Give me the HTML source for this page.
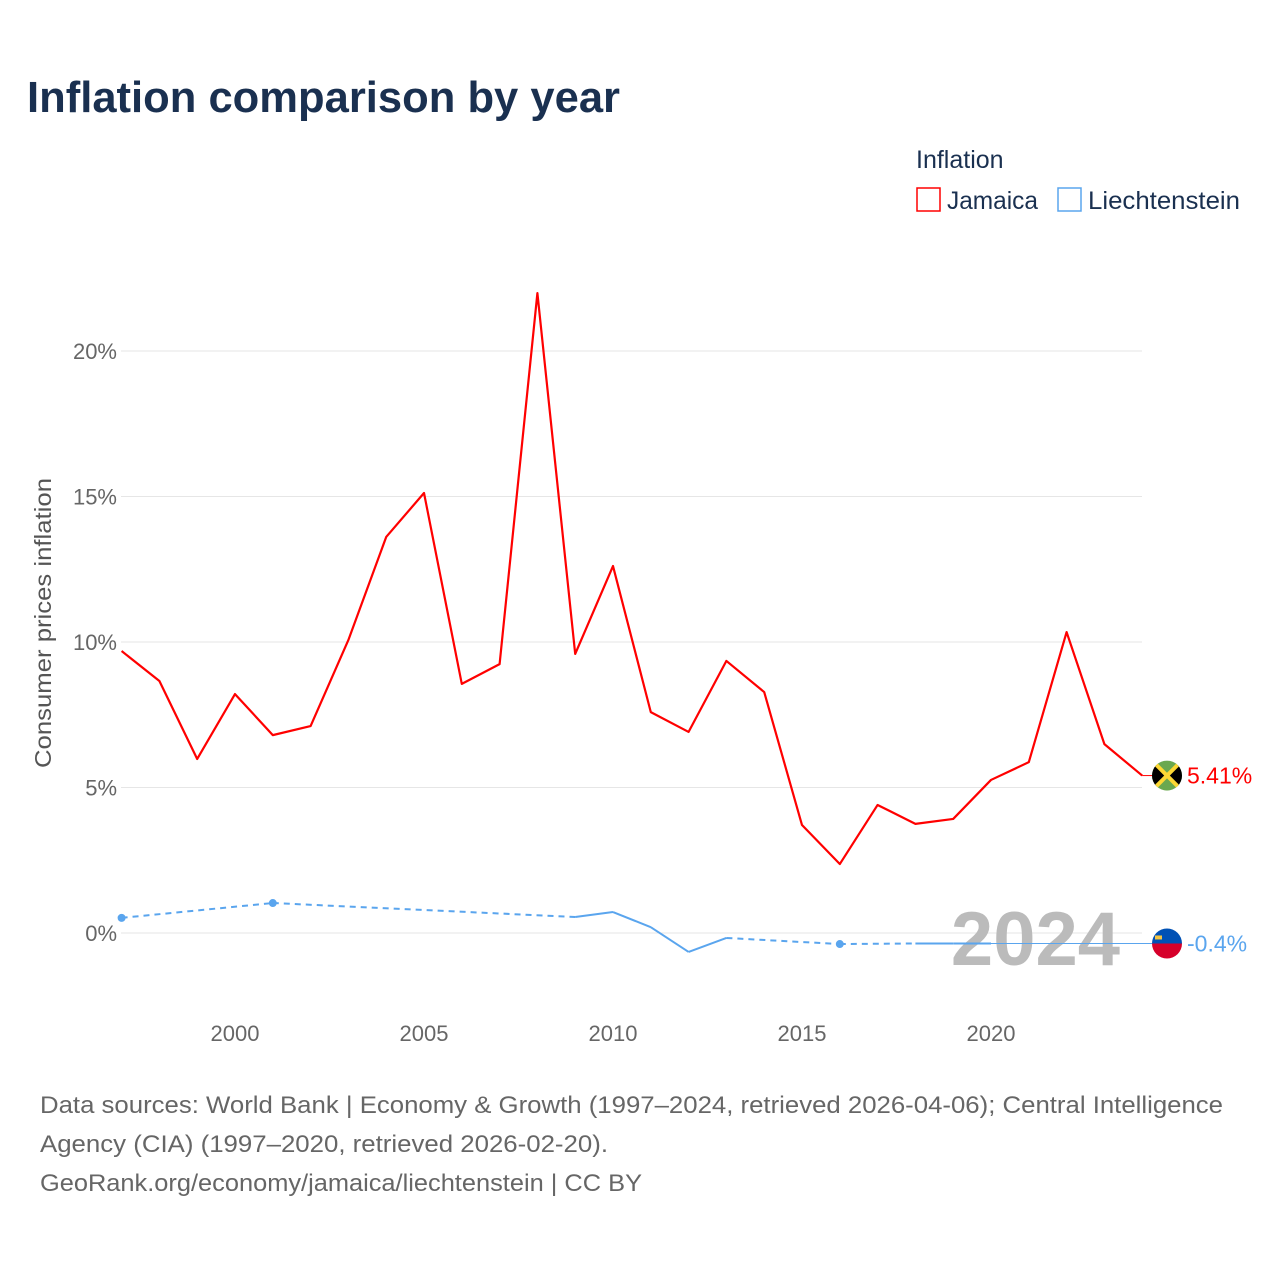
<!DOCTYPE html>
<html><head><meta charset="utf-8"><style>
body{margin:0;background:#fff;font-family:"Liberation Sans",sans-serif}
svg text{font-family:"Liberation Sans",sans-serif}
</style></head><body>
<svg id="c" width="1280" height="1280" viewBox="0 0 1280 1280" xmlns="http://www.w3.org/2000/svg">
<rect width="1280" height="1280" fill="#fff"/>
<text x="27" y="112" font-size="44" font-weight="bold" fill="#1a3050" textLength="593" lengthAdjust="spacingAndGlyphs">Inflation comparison by year</text>
<text x="916" y="168" font-size="25" fill="#1a3050">Inflation</text>
<g><rect x="917" y="188" width="23" height="23" fill="none" stroke="#f00" stroke-width="1.5"/><text x="947" y="209" font-size="25" fill="#1a3050" textLength="91" lengthAdjust="spacingAndGlyphs">Jamaica</text></g>
<g><rect x="1058" y="188" width="23" height="23" fill="none" stroke="#5aa5ee" stroke-width="1.5"/><text x="1088" y="209" font-size="25" fill="#1a3050" textLength="152" lengthAdjust="spacingAndGlyphs">Liechtenstein</text></g>
<text transform="translate(51,623) rotate(-90)" text-anchor="middle" font-size="23" fill="#555" textLength="290" lengthAdjust="spacingAndGlyphs">Consumer prices inflation</text>
<g id="grid"></g><g id="marks"></g>
<text x="40" y="1113" font-size="24" fill="#666" textLength="1183" lengthAdjust="spacingAndGlyphs">Data sources: World Bank | Economy &amp; Growth (1997–2024, retrieved 2026-04-06); Central Intelligence</text>
<text x="40" y="1152" font-size="24" fill="#666" textLength="568" lengthAdjust="spacingAndGlyphs">Agency (CIA) (1997–2020, retrieved 2026-02-20).</text>
<text x="40" y="1191" font-size="24" fill="#666" textLength="602" lengthAdjust="spacingAndGlyphs">GeoRank.org/economy/jamaica/liechtenstein | CC BY</text>
</svg>
<script>
const years=[1997,1998,1999,2000,2001,2002,2003,2004,2005,2006,2007,2008,2009,2010,2011,2012,2013,2014,2015,2016,2017,2018,2019,2020,2021,2022,2023,2024];
const jamaica=[9.69,8.66,5.98,8.21,6.80,7.11,10.07,13.61,15.12,8.56,9.24,21.99,9.59,12.61,7.59,6.91,9.35,8.28,3.71,2.37,4.40,3.75,3.92,5.26,5.87,10.34,6.49,5.41];
const liechtenstein=[0.52,null,null,null,1.03,null,null,null,null,null,null,null,0.55,0.72,0.20,-0.65,-0.17,null,null,-0.38,null,-0.36,-0.36,-0.36,null,null,null,null];
const yTicks=[0,5,10,15,20];
const xTicks=[2000,2005,2010,2015,2020];
const NS="http://www.w3.org/2000/svg";
const X=y=>121.6+(y-1997)*37.8;
const Y=v=>933-v*29.1;
function mk(t,a,p){const e=document.createElementNS(NS,t);for(const k in a)e.setAttribute(k,a[k]);p.appendChild(e);return e;}
const grid=document.getElementById('grid'),marks=document.getElementById('marks');
yTicks.forEach(v=>{
 const l=mk('line',{x1:121,x2:1142,y1:Y(v),y2:Y(v),stroke:'#e6e6e6','stroke-width':1},grid);
 
 
 const t=mk('text',{x:117,y:Y(v)+8,'text-anchor':'end','font-size':22,fill:'#666'},grid);
 t.textContent=v+'%';
 
 
});
xTicks.forEach(y=>{
 const t=mk('text',{x:X(y),y:1041,'text-anchor':'middle','font-size':22,fill:'#666'},grid);
 t.textContent=y;
 
 
});
const wm=mk('text',{x:1120,y:965,'text-anchor':'end','font-size':76,'font-weight':'bold',fill:'#bbb'},marks);
wm.textContent='2024';


const jp=mk('polyline',{points:years.map((y,i)=>X(y)+','+Y(jamaica[i])).join(' '),fill:'none',stroke:'#f00','stroke-width':2.2,'stroke-linejoin':'round'},marks);


const pts=[];years.forEach((y,i)=>{if(liechtenstein[i]!==null)pts.push([y,liechtenstein[i]]);});
for(let k=0;k<pts.length-1;k++){
 const a=pts[k],b=pts[k+1],gap=b[0]-a[0]>1;
 const s=mk('line',{x1:X(a[0]),y1:Y(a[1]),x2:X(b[0]),y2:Y(b[1]),stroke:'#5aa5ee','stroke-width':2,'stroke-dasharray':gap?'6,5':'none'},marks);
 
 
}
pts.forEach((p,k)=>{
 const prev=k>0&&p[0]-pts[k-1][0]===1, next=k<pts.length-1&&pts[k+1][0]-p[0]===1;
 if(!prev&&!next){const c=mk('circle',{cx:X(p[0]),cy:Y(p[1]),r:4,fill:'#5aa5ee'},marks);
 
 }
});
const last=pts[pts.length-1];
const ll=mk('line',{x1:X(last[0]),y1:Y(last[1]),x2:1152,y2:Y(last[1]),stroke:'#5aa5ee','stroke-width':1},marks);


const jl=mk('line',{x1:X(2024),y1:Y(jamaica[jamaica.length-1]),x2:1152,y2:Y(jamaica[jamaica.length-1]),stroke:'#f00','stroke-width':1},marks);


const jy=Y(jamaica[jamaica.length-1]),ly=Y(last[1]);
const fj=mk('g',{},marks);


const cp=mk('clipPath',{id:'cj'},fj);
mk('circle',{cx:1167,cy:jy,r:15},cp);
const gj=mk('g',{'clip-path':'url(#cj)'},fj);
mk('rect',{x:1152,y:jy-15,width:30,height:30,fill:'#6aa84f'},gj);
mk('polygon',{points:`1152,${jy-15} 1167,${jy} 1152,${jy+15}`,fill:'#000'},gj);
mk('polygon',{points:`1182,${jy-15} 1167,${jy} 1182,${jy+15}`,fill:'#000'},gj);
mk('line',{x1:1152,y1:jy-15,x2:1182,y2:jy+15,stroke:'#fdd835','stroke-width':4},gj);
mk('line',{x1:1182,y1:jy-15,x2:1152,y2:jy+15,stroke:'#fdd835','stroke-width':4},gj);
const fl=mk('g',{},marks);


mk('path',{d:`M1152,${ly} A15,15 0 0 1 1182,${ly} Z`,fill:'#0051b5'},fl);
mk('path',{d:`M1152,${ly} A15,15 0 0 0 1182,${ly} Z`,fill:'#d6002a'},fl);
mk('rect',{x:1155,y:ly-8,width:7,height:4,fill:'#f5c542'},fl);
const t1=mk('text',{x:1187,y:jy+8,'font-size':23,fill:'#f00'},marks);
t1.textContent=jamaica[jamaica.length-1]+'%';


const t2=mk('text',{x:1187,y:ly+8,'font-size':23,fill:'#5aa5ee'},marks);
t2.textContent=last[1].toFixed(1)+'%';


</script>
</body></html>
